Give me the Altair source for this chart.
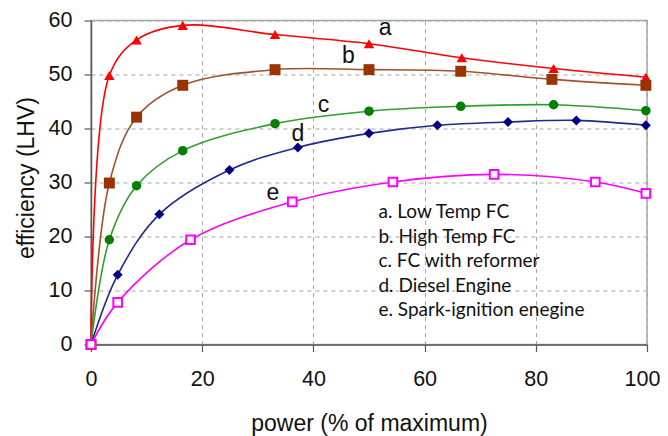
import altair as alt
import pandas as pd

# ---- data ----
a_x = [0, 3.3, 8.2, 16.5, 33.1, 50.0, 66.7, 83.2, 99.8]
a_y = [0, 49.8, 56.4, 59.1, 57.4, 55.7, 53.1, 51.1, 49.5]

b_x = [0, 3.3, 8.2, 16.5, 33.1, 50.0, 66.5, 82.9, 99.8]
b_y = [0, 29.9, 42.1, 48.0, 50.9, 50.9, 50.6, 49.1, 48.0]

c_x = [0, 3.3, 8.2, 16.5, 33.1, 50.0, 66.5, 83.2, 99.8]
c_y = [0, 19.4, 29.4, 35.9, 40.9, 43.2, 44.1, 44.4, 43.3]

d_x = [0, 4.8, 12.3, 24.9, 37.2, 50.0, 62.3, 75.0, 87.3, 99.8]
d_y = [0, 12.9, 24.1, 32.3, 36.5, 39.1, 40.6, 41.2, 41.5, 40.6]

e_x = [0, 4.8, 17.9, 36.2, 54.3, 72.5, 90.7, 99.8]
e_y = [0, 7.8, 19.4, 26.4, 30.1, 31.5, 30.1, 28.0]

curve_letters = ["a", "b", "c", "d", "e"]
letter_x = [52.9, 46.3, 41.8, 37.2, 32.7]
letter_y = [57.3, 52.1, 43.1, 37.6, 26.8]

legend_lines = ["a. Low Temp FC", "b. High Temp FC", "c. FC with reformer",
                "d. Diesel Engine", "e. Spark-ignition enegine"]
legend_x = [51.7] * 5
legend_y = [24.5, 19.95, 15.45, 10.8, 6.36]

x_ticks = [0, 20, 40, 60, 80, 100]
y_ticks = [0, 10, 20, 30, 40, 50, 60]

series = [
    (a_x, a_y, "#FF0000", "#FF0000", "triangle-up", True, 110),
    (b_x, b_y, "#A0522D", "#993300", "square", True, 120),
    (c_x, c_y, "#2CA02C", "#008000", "circle", True, 90),
    (d_x, d_y, "#1F2A8F", "#000080", "diamond", True, 100),
    (e_x, e_y, "#FF00FF", "#FF00FF", "square", False, 75),
]

X = alt.X("x:Q", scale=alt.Scale(domain=[0, 100], nice=False),
          axis=alt.Axis(values=x_ticks, title="power (% of maximum)",
                        labelOffset={"condition": {"test": "datum.value == 100",
                                                   "value": -5},
                                     "value": 0}))
Y = alt.Y("y:Q", scale=alt.Scale(domain=[0, 60], nice=False),
          axis=alt.Axis(values=y_ticks, title="efficiency (LHV)", titleY=157))

layers = []
for xs, ys, lcol, mcol, shape, filled, size in series:
    df = pd.DataFrame({"x": xs, "y": ys})
    base = alt.Chart(df)
    layers.append(base.mark_line(color=lcol, strokeWidth=1.6,
                                 interpolate="catmull-rom").encode(x=X, y=Y))
    if filled:
        pts = base.mark_point(shape=shape, filled=True, color=mcol, size=size, opacity=1)
    else:
        pts = base.mark_point(shape=shape, filled=False, color=mcol, fill="white",
                              fillOpacity=1, strokeWidth=2, size=size, opacity=1)
    layers.append(pts.encode(x=X, y=Y))

letters_df = pd.DataFrame({"x": letter_x, "y": letter_y, "t": curve_letters})
layers.append(alt.Chart(letters_df).mark_text(font="Liberation Sans", fontSize=23,
                                               color="#111", align="center",
                                               baseline="alphabetic")
              .encode(x=X, y=Y, text="t:N"))

legend_df = pd.DataFrame({"x": legend_x, "y": legend_y, "t": legend_lines})
layers.append(alt.Chart(legend_df).mark_text(font="Lato", fontSize=19,
                                              color="#111", align="left",
                                              baseline="middle")
              .encode(x=X, y=Y, text="t:N"))

chart = alt.layer(*layers).properties(
    width=556, height=324,
    autosize=alt.AutoSizeParams(type="none"),
    padding={"left": 83, "top": 12.5, "right": 13, "bottom": 91.5},
).configure_view(
    stroke="#a6a6a6", strokeWidth=1.5
).configure_axis(
    grid=True, gridDash=[4, 4], gridColor="#a6a6a6", gridWidth=1,
    domainColor="#595959", domainWidth=1.5,
    tickColor="#595959", tickSize=7, tickWidth=1.2,
    labelFont="Liberation Sans", labelFontSize=21.5, labelColor="#111",
    labelFlush=False,
    titleFont="Liberation Sans", titleFontSize=23, titleFontWeight="normal",
    titleColor="#111",
).configure_axisX(
    labelPadding=17, titlePadding=22
).configure_axisY(
    labelPadding=12, titlePadding=10
)

chart.save("out.html", embed_options={"renderer": "svg", "actions": False})
